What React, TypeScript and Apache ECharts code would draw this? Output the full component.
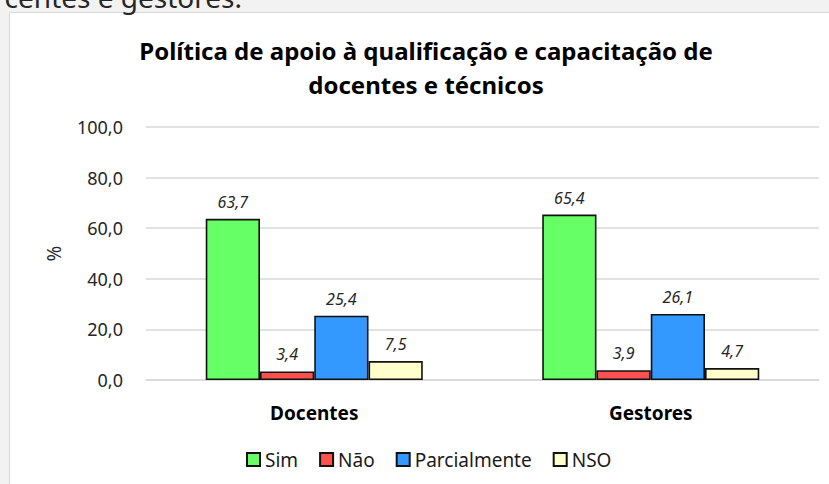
import React, { useEffect, useRef } from "react";
import * as echarts from "echarts";

const categories = ["Docentes", "Gestores"];
const seriesNames = ["Sim", "Não", "Parcialmente", "NSO"];
const simValues = [63.7, 65.4];
const naoValues = [3.4, 3.9];
const parcialValues = [25.4, 26.1];
const nsoValues = [7.5, 4.7];
const seriesColors = ["#66FF66", "#FF5050", "#3399FF", "#FFFFCC"];
const yTicks = { min: 0, max: 100, interval: 20 };
const titleLines = ["Política de apoio à qualificação e capacitação de", "docentes e técnicos"];
const topText = "centes e gestores.";

const FONT = "'Noto Sans', 'Open Sans', sans-serif";
const fmt = (v: number) => v.toFixed(1).replace(".", ",");

export default function App() {
  const ref = useRef<HTMLDivElement>(null);
  useEffect(() => {
    if (!ref.current) return;
    const chart = echarts.init(ref.current, null, { renderer: "svg" });
    const values = [simValues, naoValues, parcialValues, nsoValues];
    chart.setOption({
      animation: false,
      backgroundColor: "#f2f2f2",
      graphic: [
        {
          type: "rect",
          z: -10,
          silent: true,
          shape: { x: 9.5, y: 12.5, width: 840, height: 480 },
          style: { fill: "#ffffff", stroke: "#d9d9d9", lineWidth: 1 },
        },
        {
          type: "text",
          x: 242,
          y: -3,
          style: {
            text: topText,
            fontFamily: FONT,
            fontSize: 28,
            fill: "#262626",
            align: "right",
            verticalAlign: "middle",
          },
        },
        {
          type: "text",
          x: 426,
          y: 50,
          style: {
            text: titleLines[0],
            fontFamily: FONT,
            fontSize: 24,
            fontWeight: "bold",
            fill: "#000000",
            align: "center",
            verticalAlign: "middle",
          },
        },
        {
          type: "text",
          x: 426,
          y: 84,
          style: {
            text: titleLines[1],
            fontFamily: FONT,
            fontSize: 24,
            fontWeight: "bold",
            fill: "#000000",
            align: "center",
            verticalAlign: "middle",
          },
        },
      ],
      legend: {
        data: seriesNames,
        left: 246,
        top: 450,
        padding: 0,
        itemWidth: 13,
        itemHeight: 13,
        itemGap: 21,
        icon: "rect",
        textStyle: { fontFamily: FONT, fontSize: 19, color: "#1a1a1a" },
      },
      grid: { left: 146, right: 10, top: 127, bottom: 104, containLabel: false },
      xAxis: {
        type: "category",
        data: categories,
        axisLine: { lineStyle: { color: "#d9d9d9", width: 1.5 } },
        axisTick: { show: false },
        axisLabel: {
          fontFamily: FONT,
          fontSize: 19,
          fontWeight: "bold",
          color: "#000000",
          margin: 23,
        },
      },
      yAxis: {
        type: "value",
        min: yTicks.min,
        max: yTicks.max,
        interval: yTicks.interval,
        name: "%",
        nameLocation: "middle",
        nameGap: 83,
        nameRotate: 90,
        nameTextStyle: { fontFamily: FONT, fontSize: 19, color: "#262626" },
        axisLine: { show: false },
        axisTick: { show: false },
        splitLine: { lineStyle: { color: "#d9d9d9", width: 1.5 } },
        axisLabel: {
          fontFamily: FONT,
          fontSize: 18,
          color: "#262626",
          margin: 23,
          formatter: (v: number) => fmt(v),
        },
      },
      series: seriesNames.map((name, i) => ({
        name,
        type: "bar",
        data: values[i],
        barGap: "0%",
        barCategoryGap: "35.5%",
        itemStyle: { color: seriesColors[i], borderColor: "#111111", borderWidth: 1.6 },
        label: {
          show: true,
          position: "top",
          distance: 9,
          fontFamily: FONT,
          fontSize: 16,
          fontStyle: "italic",
          color: "#262626",
          formatter: (p: any) => fmt(p.value),
        },
      })),
    });
    return () => chart.dispose();
  }, []);
  return (
    <div
      ref={ref}
      style={{ position: "fixed", left: 0, top: 0, width: 829, height: 484 }}
    />
  );
}
